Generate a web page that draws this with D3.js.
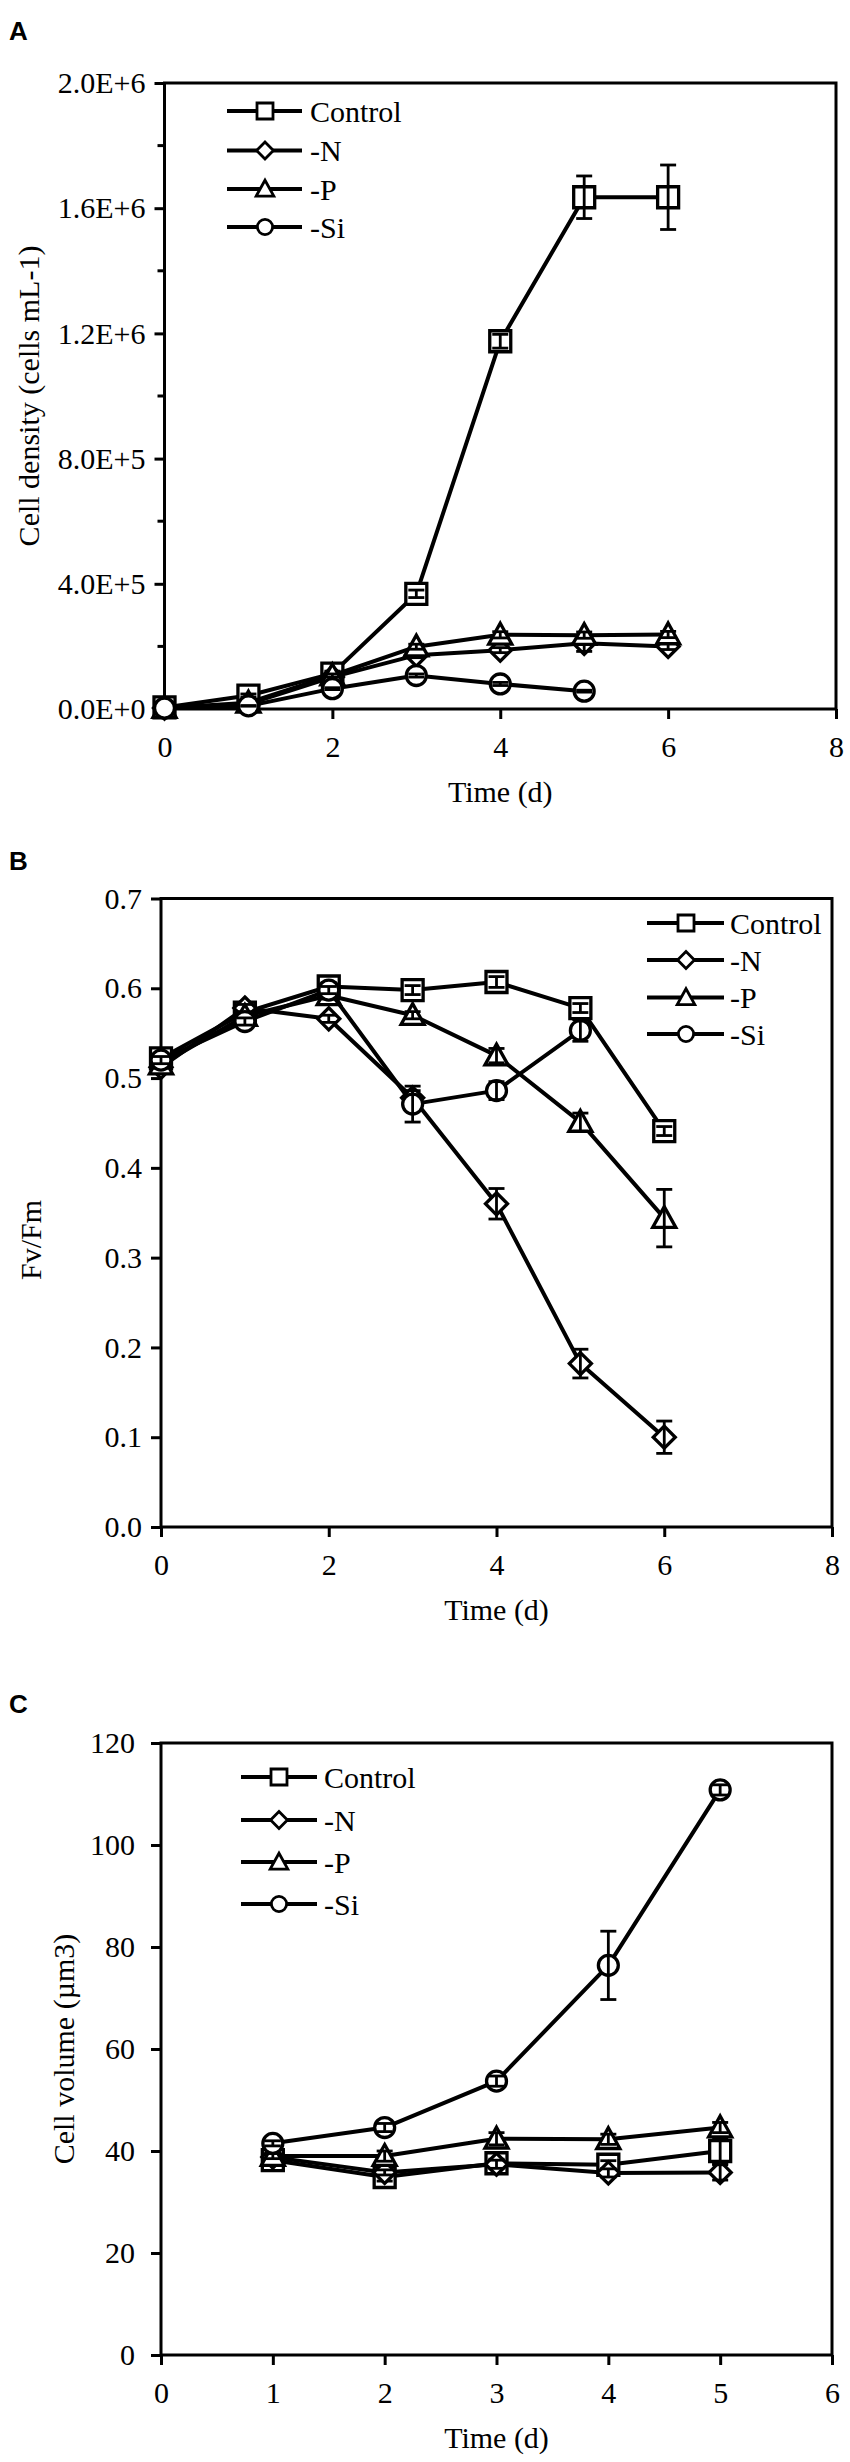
<!DOCTYPE html>
<html>
<head>
<meta charset="utf-8">
<script src="https://cdn.jsdelivr.net/npm/d3@7"></script>
<style>
  body { margin: 0; background: #fff; }
</style>
</head>
<body>
<div id="chart"></div>
<script>

// ---- data ----
var seriesNames = ["Control", "-N", "-P", "-Si"];
var seriesShapes = ["square", "diamond", "triangle", "circle"];

// A: cell density (cells mL-1), days 0-6
var daysA = [0, 1, 2, 3, 4, 5, 6];
var densControl = [5000, 43000, 113000, 368000, 1175000, 1635000, 1635000];
var densControlErr = [0, 5000, 8000, 12000, 22000, 68000, 103000];
var densN = [3000, 16000, 102000, 172000, 188000, 210000, 200000];
var densNErr = [0, 2000, 5000, 8000, 8000, 26000, 10000];
var densP = [3000, 20000, 107000, 199000, 237000, 236000, 238000];
var densPErr = [0, 2000, 5000, 8000, 10000, 10000, 10000];
var densSi = [3000, 10000, 65000, 107000, 80000, 57000];
var densSiErr = [0, 1000, 3000, 5000, 5000, 3000];
var aYTicks = [0, 400000, 800000, 1200000, 1600000, 2000000];
var aYTickLabels = ["0.0E+0", "4.0E+5", "8.0E+5", "1.2E+6", "1.6E+6", "2.0E+6"];
var aYMinor = [200000, 600000, 1000000, 1400000, 1800000];
var aXTicks = [0, 2, 4, 6, 8];

// B: Fv/Fm, days 0-6
var daysB = [0, 1, 2, 3, 4, 5, 6];
var fvControl = [0.522, 0.573, 0.602, 0.598, 0.607, 0.578, 0.441];
var fvControlErr = [0.004, 0.004, 0.004, 0.005, 0.006, 0.005, 0.005];
var fvN = [0.512, 0.578, 0.566, 0.478, 0.360, 0.182, 0.100];
var fvNErr = [0.004, 0.004, 0.004, 0.008, 0.017, 0.016, 0.018];
var fvP = [0.515, 0.569, 0.592, 0.570, 0.525, 0.451, 0.344];
var fvPErr = [0.004, 0.004, 0.004, 0.004, 0.008, 0.010, 0.032];
var fvSi = [0.520, 0.563, 0.598, 0.471, 0.486, 0.553];
var fvSiErr = [0.004, 0.004, 0.004, 0.020, 0.010, 0.012];
var bYTicks = [0, 0.1, 0.2, 0.3, 0.4, 0.5, 0.6, 0.7];
var bYTickLabels = ["0.0", "0.1", "0.2", "0.3", "0.4", "0.5", "0.6", "0.7"];
var bXTicks = [0, 2, 4, 6, 8];

// C: cell volume (µm3), days 1-5
var daysC = [1, 2, 3, 4, 5];
var volControl = [38.2, 34.9, 37.6, 37.3, 40.0];
var volControlErr = [0.5, 0.8, 0.8, 0.8, 2.5];
var volN = [38.8, 35.8, 37.4, 35.7, 35.8];
var volNErr = [0.5, 0.5, 0.8, 0.8, 1.5];
var volP = [39.0, 39.0, 42.4, 42.3, 44.6];
var volPErr = [0.5, 1.0, 1.2, 1.0, 1.0];
var volSi = [41.5, 44.6, 53.7, 76.4, 110.8];
var volSiErr = [0.5, 0.8, 1.0, 6.7, 1.0];
var cYTicks = [0, 20, 40, 60, 80, 100, 120];
var cYTickLabels = ["0", "20", "40", "60", "80", "100", "120"];
var cXTicks = [0, 1, 2, 3, 4, 5, 6];

// ---- drawing ----
var serif = "'Liberation Serif', 'Times New Roman', serif";

var svg = d3.select("#chart").append("svg")
    .attr("width", 850)
    .attr("height", 2462);

function makeSeries(days, vals, errs) {
    var out = [];
    for (var i = 0; i < vals.length; i++) {
        out.push({ x: days[i], y: vals[i], e: errs[i] });
    }
    return out;
}

function markerPath(shape, size) {
    var s = size / 2;
    if (shape === "square") {
        return "M" + (-s) + "," + (-s) + "H" + s + "V" + s + "H" + (-s) + "Z";
    }
    if (shape === "diamond") {
        var r = s * 1.05;
        return "M0," + (-r) + "L" + r + ",0L0," + r + "L" + (-r) + ",0Z";
    }
    if (shape === "triangle") {
        var t = s * 1.1;
        return "M0," + (-t) + "L" + t + "," + (t * 0.8) + "L" + (-t) + "," + (t * 0.8) + "Z";
    }
    var c = s * 0.95;
    return "M" + c + ",0A" + c + "," + c + " 0 1,1 " + (-c) + ",0A" + c + "," + c + " 0 1,1 " + c + ",0Z";
}

function drawPanel(p) {

    var g = svg.append("g");

    var x = d3.scaleLinear().domain(p.xDomain).range([p.left, p.right]);
    var y = d3.scaleLinear().domain(p.yDomain).range([p.bottom, p.top]);

    // panel letter
    g.append("text")
        .attr("x", p.letterX)
        .attr("y", p.letterY)
        .style("font-family", "'Liberation Sans', Arial, sans-serif")
        .style("font-weight", "bold")
        .style("font-size", "26px")
        .text(p.letter);

    // axes
    var yAxis = d3.axisLeft(y)
        .tickValues(p.yTicks)
        .tickSize(10)
        .tickSizeOuter(0)
        .tickPadding(p.yLabelGap)
        .tickFormat(function(d, i) { return p.yTickLabels[i]; });

    var xAxis = d3.axisBottom(x)
        .tickValues(p.xTicks)
        .tickSize(10)
        .tickSizeOuter(0)
        .tickPadding(17)
        .tickFormat(d3.format("d"));

    var ya = g.append("g")
        .attr("transform", "translate(" + p.left + ",0)")
        .call(yAxis);

    var xa = g.append("g")
        .attr("transform", "translate(0," + p.bottom + ")")
        .call(xAxis);

    [ya, xa].forEach(function(a) {
        a.select(".domain").remove();
        a.selectAll(".tick line").attr("stroke", "#000").attr("stroke-width", 3);
        a.selectAll(".tick text")
            .style("font-family", serif)
            .style("font-size", "30px")
            .attr("fill", "#000");
    });

    if (p.yMinor) {
        g.selectAll(".minor")
            .data(p.yMinor)
            .enter().append("line")
            .attr("x1", p.left - 7)
            .attr("x2", p.left)
            .attr("y1", function(d) { return y(d); })
            .attr("y2", function(d) { return y(d); })
            .attr("stroke", "#000")
            .attr("stroke-width", 3);
    }

    // frame
    g.append("rect")
        .attr("x", p.left)
        .attr("y", p.top)
        .attr("width", p.right - p.left)
        .attr("height", p.bottom - p.top)
        .attr("fill", "none")
        .attr("stroke", "#000")
        .attr("stroke-width", 3);

    // titles
    g.append("text")
        .attr("x", (p.left + p.right) / 2)
        .attr("y", p.bottom + 93)
        .attr("text-anchor", "middle")
        .style("font-family", serif)
        .style("font-size", "30px")
        .text("Time (d)");

    g.append("text")
        .attr("transform", "translate(" + p.yTitleX + "," + p.yTitleY + ") rotate(-90)")
        .attr("text-anchor", "middle")
        .attr("dy", "0.35em")
        .style("font-family", serif)
        .style("font-size", "30px")
        .text(p.yTitle);

    // series
    var line = d3.line()
        .x(function(d) { return x(d.x); })
        .y(function(d) { return y(d.y); });

    p.series.forEach(function(s, si) {

        var sg = g.append("g");

        sg.append("path")
            .datum(s)
            .attr("d", line)
            .attr("fill", "none")
            .attr("stroke", "#000")
            .attr("stroke-width", 4)
            .attr("stroke-linejoin", "round");

        sg.selectAll(".mk")
            .data(s)
            .enter().append("path")
            .attr("transform", function(d) { return "translate(" + x(d.x) + "," + y(d.y) + ")"; })
            .attr("d", markerPath(seriesShapes[si], 21))
            .attr("fill", "#fff")
            .attr("stroke", "#000")
            .attr("stroke-width", 3.3);

        var eb = sg.selectAll(".eb")
            .data(s.filter(function(d) { return d.e > 0; }))
            .enter().append("g")
            .attr("stroke", "#000")
            .attr("stroke-width", 2.8);

        eb.append("line")
            .attr("x1", function(d) { return x(d.x); })
            .attr("x2", function(d) { return x(d.x); })
            .attr("y1", function(d) { return y(d.y - d.e); })
            .attr("y2", function(d) { return y(d.y + d.e); });

        [-1, 1].forEach(function(sign) {
            eb.append("line")
                .attr("x1", function(d) { return x(d.x) - 8; })
                .attr("x2", function(d) { return x(d.x) + 8; })
                .attr("y1", function(d) { return y(d.y + sign * d.e); })
                .attr("y2", function(d) { return y(d.y + sign * d.e); });
        });
    });

    // legend
    var lg = g.append("g");
    seriesNames.forEach(function(name, i) {
        var ly = p.legendRows[i];
        lg.append("line")
            .attr("x1", p.legendX1)
            .attr("x2", p.legendX2)
            .attr("y1", ly)
            .attr("y2", ly)
            .attr("stroke", "#000")
            .attr("stroke-width", 4);
        lg.append("path")
            .attr("transform", "translate(" + p.legendMX + "," + ly + ")")
            .attr("d", markerPath(seriesShapes[i], 16))
            .attr("fill", "#fff")
            .attr("stroke", "#000")
            .attr("stroke-width", 2.8);
        lg.append("text")
            .attr("x", p.legendTX)
            .attr("y", ly)
            .attr("dy", "0.35em")
            .style("font-family", serif)
            .style("font-size", "30px")
            .text(name);
    });
}

drawPanel({
    letter: "A", letterX: 9, letterY: 40,
    left: 164.5, right: 836, top: 83, bottom: 709,
    xDomain: [0, 8], yDomain: [0, 2000000],
    xTicks: aXTicks, yTicks: aYTicks, yTickLabels: aYTickLabels, yMinor: aYMinor,
    yLabelGap: 9, yTitle: "Cell density (cells mL-1)", yTitleX: 28, yTitleY: 396,
    legendX1: 227, legendX2: 302, legendMX: 265, legendTX: 310,
    legendRows: [111, 150.5, 189, 227],
    series: [
        makeSeries(daysA, densControl, densControlErr),
        makeSeries(daysA, densN, densNErr),
        makeSeries(daysA, densP, densPErr),
        makeSeries(daysA, densSi, densSiErr)
    ]
});

drawPanel({
    letter: "B", letterX: 9, letterY: 870,
    left: 161, right: 832, top: 898.5, bottom: 1527,
    xDomain: [0, 8], yDomain: [0, 0.7],
    xTicks: bXTicks, yTicks: bYTicks, yTickLabels: bYTickLabels,
    yLabelGap: 9, yTitle: "Fv/Fm", yTitleX: 30, yTitleY: 1240,
    legendX1: 647, legendX2: 724, legendMX: 686, legendTX: 730,
    legendRows: [923, 960, 997.5, 1034],
    series: [
        makeSeries(daysB, fvControl, fvControlErr),
        makeSeries(daysB, fvN, fvNErr),
        makeSeries(daysB, fvP, fvPErr),
        makeSeries(daysB, fvSi, fvSiErr)
    ]
});

drawPanel({
    letter: "C", letterX: 9, letterY: 1713,
    left: 161, right: 832, top: 1743, bottom: 2355,
    xDomain: [0, 6], yDomain: [0, 120],
    xTicks: cXTicks, yTicks: cYTicks, yTickLabels: cYTickLabels,
    yLabelGap: 16, yTitle: "Cell volume (\u00b5m3)", yTitleX: 63, yTitleY: 2049,
    legendX1: 241, legendX2: 317, legendMX: 279, legendTX: 324,
    legendRows: [1777, 1820, 1862, 1904],
    series: [
        makeSeries(daysC, volControl, volControlErr),
        makeSeries(daysC, volN, volNErr),
        makeSeries(daysC, volP, volPErr),
        makeSeries(daysC, volSi, volSiErr)
    ]
});

</script>
</body>
</html>
